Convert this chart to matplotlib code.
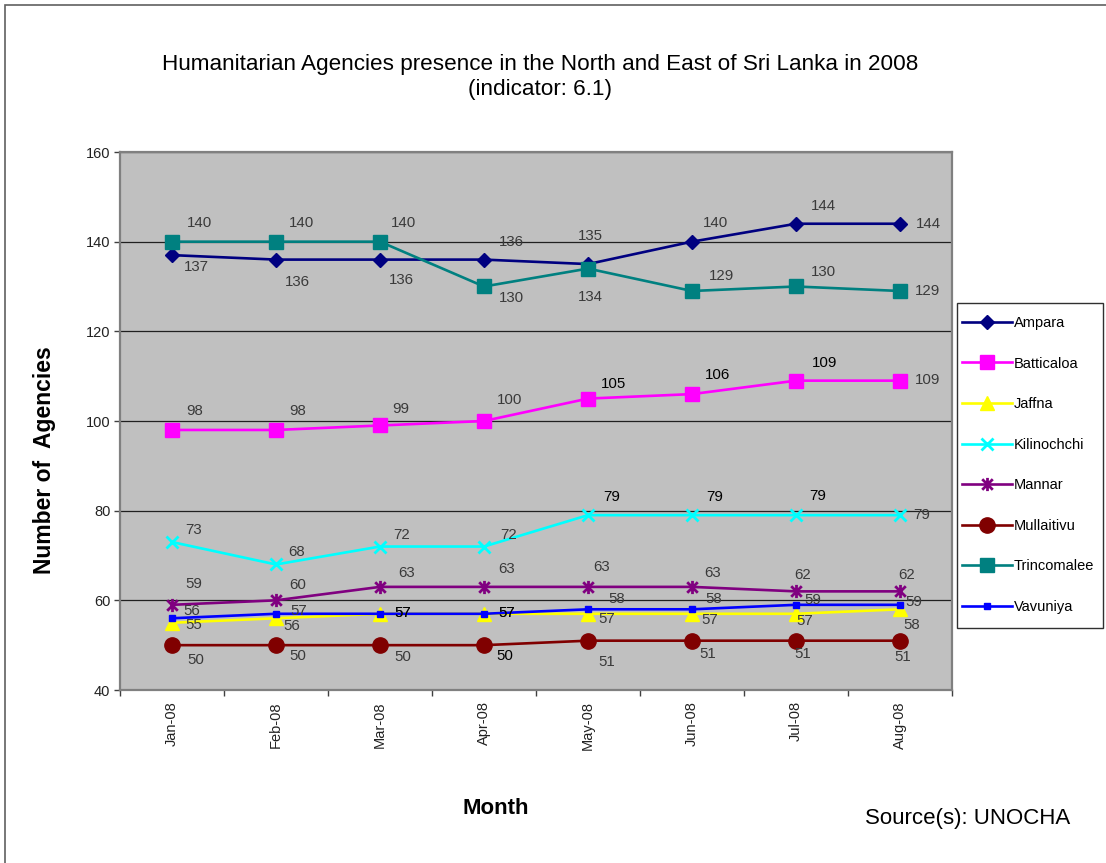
import matplotlib
matplotlib.use("Agg")
import matplotlib.pyplot as plt
from matplotlib.path import Path
from matplotlib.patches import Rectangle

plt.rcParams['font.family'] = ['Liberation Sans', 'DejaVu Sans']

# ---------------- data ----------------
months = ["Jan-08", "Feb-08", "Mar-08", "Apr-08", "May-08", "Jun-08", "Jul-08", "Aug-08"]
ampara      = [137, 136, 136, 136, 135, 140, 144, 144]
batticaloa  = [98, 98, 99, 100, 105, 106, 109, 109]
jaffna      = [55, 56, 57, 57, 57, 57, 57, 58]
kilinochchi = [73, 68, 72, 72, 79, 79, 79, 79]
mannar      = [59, 60, 63, 63, 63, 63, 62, 62]
mullaitivu  = [50, 50, 50, 50, 51, 51, 51, 51]
trincomalee = [140, 140, 140, 130, 134, 129, 130, 129]
vavuniya    = [56, 57, 57, 57, 58, 58, 59, 59]

series_names = ["Ampara", "Batticaloa", "Jaffna", "Kilinochchi", "Mannar",
                "Mullaitivu", "Trincomalee", "Vavuniya"]
series_values = [ampara, batticaloa, jaffna, kilinochchi, mannar,
                 mullaitivu, trincomalee, vavuniya]

# ---------------- styles ----------------
star = Path([(-1, -1), (1, 1), (-1, 1), (1, -1), (0, -1.25), (0, 1.25)],
            [Path.MOVETO, Path.LINETO, Path.MOVETO, Path.LINETO, Path.MOVETO, Path.LINETO])

styles = {
    "Ampara":      dict(color="#000080", marker="D", ms=7.5),
    "Batticaloa":  dict(color="#FF00FF", marker="s", ms=9.5),
    "Jaffna":      dict(color="#FFFF00", marker="^", ms=10),
    "Kilinochchi": dict(color="#00FFFF", marker="x", ms=8.5, mew=2),
    "Mannar":      dict(color="#800080", marker=star, ms=9.5, mew=2),
    "Mullaitivu":  dict(color="#800000", marker="o", ms=11),
    "Trincomalee": dict(color="#008080", marker="s", ms=9.5),
    "Vavuniya":    dict(color="#0000FF", marker="s", ms=4.5),
}

# label offsets in pixels (dx right, dy down)
offsets = {
    "Ampara":      [(24, 12), (21, 22), (21, 20), (27, -18), (2, -28), (23, -19), (27, -18), (28, 0)],
    "Batticaloa":  [(23, -19), (22, -19), (21, -16), (26, -21), (25, -15), (26, -19), (29, -18), (28, -1)],
    "Jaffna":      [(22, 2), (16, 8), (23, -1), (23, -1), (19, 5), (18, 6), (9, 7), (12, 16)],
    "Kilinochchi": [(22, -12), (21, -12), (22, -12), (25, -12), (24, -18), (23, -18), (22, -19), (22, 0)],
    "Mannar":      [(22, -21), (22, -15), (27, -14), (23, -18), (14, -20), (21, -14), (7, -16), (7, -16)],
    "Mullaitivu":  [(24, 15), (22, 11), (23, 12), (21, 11), (19, 21), (16, 13), (7, 13), (3, 16)],
    "Trincomalee": [(27, -19), (25, -19), (23, -19), (27, 11), (2, 28), (29, -15), (27, -14), (28, 0)],
    "Vavuniya":    [(20, -7), (23, -3), (23, -1), (23, -1), (29, -10), (22, -10), (17, -5), (14, -3)],
}
dark_labels = {("Batticaloa", 4), ("Batticaloa", 5), ("Batticaloa", 6),
               ("Kilinochchi", 4), ("Kilinochchi", 5), ("Kilinochchi", 6),
               ("Mullaitivu", 3), ("Vavuniya", 2), ("Vavuniya", 3)}

W, H = 1106, 863
fig = plt.figure(figsize=(W / 100, H / 100), dpi=100)
fig.patch.set_facecolor("white")

# outer border (left & top visible)
fig.patches.append(Rectangle((5 / W, -0.1), 1.2, 1 - 5 / H + 0.1, transform=fig.transFigure,
                             fill=False, edgecolor="#606060", linewidth=1.2))

ax = fig.add_axes([120 / W, 1 - 690 / H, 832 / W, 538 / H])
ax.set_facecolor("#C0C0C0")
x = list(range(len(months)))

handles = []
for name, vals in zip(series_names, series_values):
    st = styles[name]
    h, = ax.plot(x, vals, color=st["color"], lw=1.9, marker=st["marker"],
                 markersize=st["ms"], markerfacecolor=st["color"],
                 markeredgecolor=st["color"], markeredgewidth=st.get("mew", 1),
                 label=name, zorder=3, clip_on=False)
    handles.append(h)
    for i, v in enumerate(vals):
        dx, dy = offsets[name][i]
        col = "#000000" if (name, i) in dark_labels else "#3a3a3a"
        ax.annotate(str(v), (i, v), xytext=(dx, -dy), textcoords="offset pixels",
                    ha="center", va="center", fontsize=10.8, color=col, zorder=5,
                    annotation_clip=False)

ax.set_xlim(-0.5, len(months) - 0.5)
ax.set_ylim(40, 160)
ax.set_yticks(range(40, 161, 20))
ax.yaxis.grid(True, color="#202020", lw=0.9)
ax.set_axisbelow(True)

ax.set_xticks(x)
ax.set_xticklabels(months, rotation=90, fontsize=10.5, color="#222222")
ax.set_xticks([i - 0.5 for i in range(len(months) + 1)], minor=True)
ax.tick_params(axis="x", which="major", length=0, pad=8)
ax.tick_params(axis="x", which="minor", length=4, width=1, color="#404040", direction="out")
ax.tick_params(axis="y", length=4, width=1, color="#404040", labelsize=10.5,
               labelcolor="#222222", pad=3)
for sp in ax.spines.values():
    sp.set_color("#808080")
    sp.set_linewidth(1.6)

fig.text(540 / W, 1 - 77 / H,
         "Humanitarian Agencies presence in the North and East of Sri Lanka in 2008\n(indicator: 6.1)",
         ha="center", va="center", fontsize=16.2, linespacing=1.22)
fig.text(45 / W, 1 - 460 / H, "Number of  Agencies", rotation=90, ha="center", va="center",
         fontsize=16.5, fontweight="bold")
fig.text(496 / W, 1 - 808 / H, "Month", ha="center", va="center", fontsize=16, fontweight="bold")
fig.text(968 / W, 1 - 818 / H, "Source(s): UNOCHA", ha="center", va="center", fontsize=16)

# legend frame drawn separately for exact placement
fig.patches.append(Rectangle((957 / W, 1 - 628 / H), 146 / W, 325 / H, transform=fig.transFigure,
                             facecolor="white", edgecolor="#303030", linewidth=1.0, zorder=1))
leg = fig.legend(handles, series_names, loc="upper left",
                 bbox_to_anchor=(962 / W, 1 - 316 / H), fontsize=10.5,
                 frameon=False, handlelength=3.4, handletextpad=0.15, labelspacing=1.82,
                 borderpad=0, borderaxespad=0)
leg.set_zorder(2)

fig.savefig("out.png", dpi=100, facecolor="white")
